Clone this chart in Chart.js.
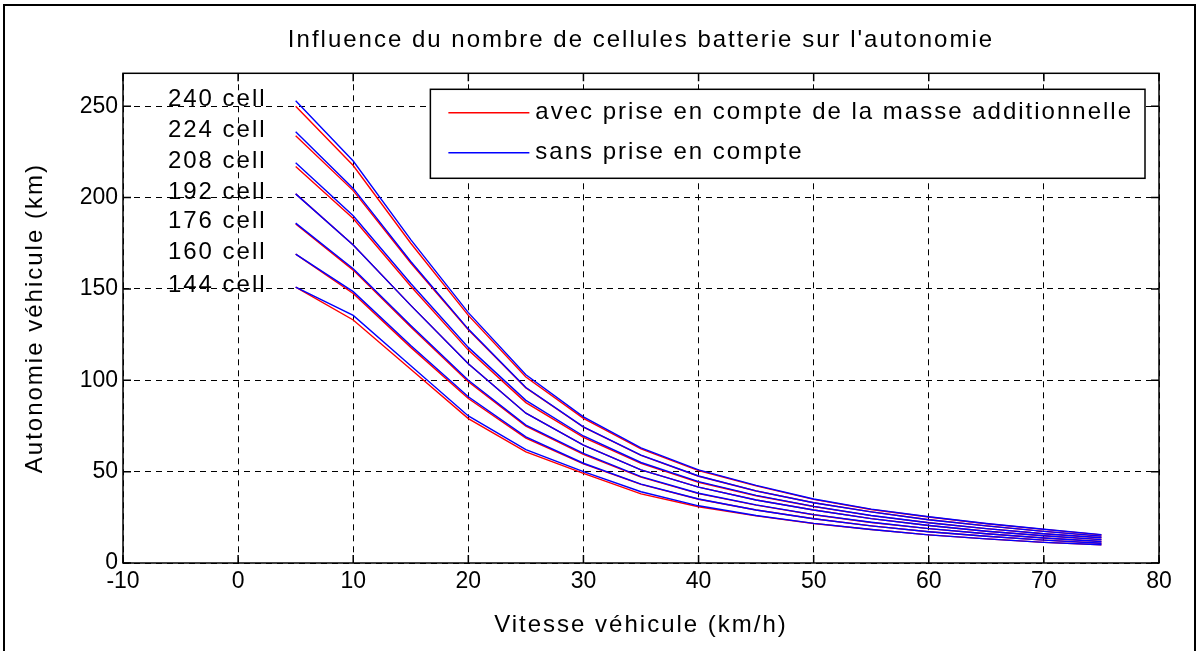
<!DOCTYPE html>
<html lang="fr">
<head>
<meta charset="utf-8">
<title>Influence du nombre de cellules batterie sur l'autonomie</title>
<script src="https://cdn.jsdelivr.net/npm/chart.js@4.4.1/dist/chart.umd.min.js"></script>
<style>
  html, body { margin: 0; padding: 0; background: #fff; }
</style>
</head>
<body>
<canvas id="autonomyChart" width="1200" height="651"></canvas>
<script>
// vitesse (km/h)
const speeds = [5, 10, 15, 20, 25, 30, 35, 40, 45, 50, 55, 60, 65, 70, 75];
const cellCounts = [240, 224, 208, 192, 176, 160, 144];

// autonomie (km) sans prise en compte de la masse des cellules
const sans240 = [253, 220, 177, 137, 103, 80, 63, 51, 42.5, 35, 29.5, 25.3, 21.6, 18.5, 15.5];
const sans224 = [236, 205, 165, 128, 96, 74.5, 59, 47.6, 39.5, 33, 28, 23.7, 20.3, 17.3, 14.7];
const sans208 = [219, 190, 153, 118, 89, 69.5, 55, 44.5, 37, 31, 26, 22, 18.8, 16, 13.8];
const sans192 = [202, 174, 141, 109, 82, 64.5, 51, 41.5, 34.5, 29, 24.3, 20.5, 17.4, 14.9, 12.8];
const sans176 = [186, 161, 130, 100, 75.5, 60, 47.3, 38.2, 31.8, 26.5, 22.3, 18.8, 16, 13.7, 11.8];
const sans160 = [169, 148.5, 119, 91, 69, 54.6, 43.2, 35, 29, 24.2, 20.3, 17.1, 14.6, 12.5, 10.8];
const sans144 = [151, 135.5, 108, 80.5, 62, 50, 39, 31.3, 26, 21.7, 18.3, 15.4, 13.2, 11.3, 10];

// autonomie (km) avec la masse additionnelle
const avec240 = [250, 217.5, 175, 135.5, 101.8, 79.2, 62.4, 50.6, 42.2, 34.8, 29.3, 25.2, 21.5, 18.4, 15.4];
const avec224 = [233.8, 203.8, 164.2, 127.7, 95.8, 74.3, 58.9, 47.5, 39.4, 33, 28, 23.7, 20.3, 17.3, 14.7];
const avec208 = [217, 188.5, 151.5, 116.5, 87.8, 68.7, 54.5, 44.2, 36.8, 30.9, 25.9, 22, 18.8, 16, 13.8];
const avec192 = [202, 174, 141, 109, 82, 64.5, 51, 41.5, 34.5, 29, 24.3, 20.5, 17.4, 14.9, 12.8];
const avec176 = [185.5, 160.3, 129.2, 99.2, 74.9, 59.5, 47, 38, 31.7, 26.4, 22.2, 18.8, 16, 13.7, 11.8];
const avec160 = [169, 147.5, 118, 90, 68.4, 54.2, 43, 34.9, 29, 24.2, 20.3, 17.1, 14.6, 12.5, 10.8];
const avec144 = [151, 133, 106, 79, 60.8, 49, 37.8, 30.8, 25.8, 21.6, 18.3, 15.4, 13.2, 11.3, 10];

const sansSeries = [sans240, sans224, sans208, sans192, sans176, sans160, sans144];
const avecSeries = [avec240, avec224, avec208, avec192, avec176, avec160, avec144];

const xTicks = { min: -10, max: 80, step: 10 };
const yTicks = { min: 0, max: 268, step: 50 };

const legendLabels = ['avec prise en compte de la masse additionnelle', 'sans prise en compte'];
const RED = '#ff0000';
const BLUE = '#0000ff';
const FONT = "'Liberation Sans', Arial, Helvetica, sans-serif";

function toPoints(values) {
    return speeds.map((v, i) => ({ x: v, y: values[i] }));
}

const datasets = [];
// red curves go underneath the blue ones (higher order is drawn first)
avecSeries.forEach((vals, i) => {
    datasets.push({
        label: `avec ${cellCounts[i]} cell`,
        data: toPoints(vals),
        borderColor: RED,
        borderWidth: 1.4,
        pointRadius: 0,
        tension: 0,
        order: 2
    });
});
sansSeries.forEach((vals, i) => {
    datasets.push({
        label: `sans ${cellCounts[i]} cell`,
        data: toPoints(vals),
        borderColor: BLUE,
        borderWidth: 1.4,
        pointRadius: 0,
        tension: 0,
        order: 1
    });
});

// box, inner ticks, legend, cell labels and figure border
const matlabFrame = {
    id: 'matlabFrame',
    afterUpdate(chart) {
        // tick numbers are drawn without the extra letter spacing
        Object.values(chart.scales).forEach(s => {
            if (s._plainLabels) return;
            const draw = s.drawLabels.bind(s);
            s.drawLabels = (area) => {
                const c = s.ctx;
                const prev = c.letterSpacing;
                c.letterSpacing = '0px';
                draw(area);
                c.letterSpacing = prev;
            };
            s._plainLabels = true;
        });
    },
    beforeDraw(chart) {
        chart.ctx.letterSpacing = '2px';
    },
    afterDatasetsDraw(chart) {
        const { ctx, chartArea: a, scales: { x, y } } = chart;
        ctx.save();
        ctx.letterSpacing = '2px';

        // cell count labels next to the start of each curve
        ctx.fillStyle = '#000';
        ctx.font = `24px ${FONT}`;
        ctx.textAlign = 'left';
        ctx.textBaseline = 'middle';
        cellCounts.forEach((n, i) => {
            ctx.fillText(`${n} cell`, x.getPixelForValue(-6.1), y.getPixelForValue(sansSeries[i][0] + 1));
        });

        // axes box
        ctx.strokeStyle = '#000';
        ctx.lineWidth = 1.5;
        ctx.strokeRect(a.left, a.top, a.right - a.left, a.bottom - a.top);
        ctx.beginPath();
        x.ticks.forEach(t => {
            const px = x.getPixelForValue(t.value);
            ctx.moveTo(px, a.bottom); ctx.lineTo(px, a.bottom - 8);
            ctx.moveTo(px, a.top); ctx.lineTo(px, a.top + 8);
        });
        y.ticks.forEach(t => {
            const py = y.getPixelForValue(t.value);
            ctx.moveTo(a.left, py); ctx.lineTo(a.left + 8, py);
            ctx.moveTo(a.right, py); ctx.lineTo(a.right - 8, py);
        });
        ctx.stroke();

        // legend
        const textW = Math.max(...legendLabels.map(s => ctx.measureText(s).width));
        const boxW = 18 + 81 + 8 + textW + 10;
        const boxH = 89;
        const bx = a.right - 14 - boxW;
        const by = a.top + 16;
        ctx.fillStyle = '#fff';
        ctx.fillRect(bx, by, boxW, boxH);
        ctx.lineWidth = 1.5;
        ctx.strokeRect(bx, by, boxW, boxH);
        [RED, BLUE].forEach((c, i) => {
            const ly = by + 23.5 + i * 40;
            ctx.strokeStyle = c;
            ctx.lineWidth = 1.5;
            ctx.beginPath();
            ctx.moveTo(bx + 18, ly);
            ctx.lineTo(bx + 99, ly);
            ctx.stroke();
            ctx.fillStyle = '#000';
            ctx.fillText(legendLabels[i], bx + 105, ly);
        });
        ctx.restore();
    },
    afterDraw(chart) {
        const { ctx } = chart;
        ctx.save();
        ctx.strokeStyle = '#000';
        ctx.lineWidth = 2;
        ctx.strokeRect(4, 5, 1191, 700);
        ctx.restore();
    }
};

const chart = new Chart(document.getElementById('autonomyChart'), {
    type: 'line',
    data: { datasets },
    plugins: [matlabFrame],
    options: {
        responsive: false,
        animation: false,
        devicePixelRatio: 1,
        layout: { padding: { left: 0, right: 41, top: 0, bottom: 0 } },
        plugins: {
            legend: { display: false },
            tooltip: { enabled: false },
            title: {
                display: true,
                text: "Influence du nombre de cellules batterie sur l'autonomie",
                color: '#000',
                font: { family: FONT, size: 24, weight: 'normal' },
                padding: { top: 25.6, bottom: 18.9 },
                fullSize: false
            }
        },
        scales: {
            x: {
                type: 'linear',
                min: xTicks.min,
                max: xTicks.max,
                ticks: { stepSize: xTicks.step, padding: 5, color: '#000', font: { family: FONT, size: 23 } },
                grid: { color: '#000', lineWidth: 1, drawTicks: false },
                border: { display: false, dash: [6, 5] },
                title: {
                    display: true,
                    text: 'Vitesse véhicule (km/h)',
                    color: '#000',
                    font: { family: FONT, size: 24 },
                    padding: { top: 0, bottom: 11.6 }
                },
                afterFit(scale) { scale.height = 88; }
            },
            y: {
                type: 'linear',
                min: yTicks.min,
                max: yTicks.max,
                ticks: { stepSize: yTicks.step, includeBounds: false, padding: 5, color: '#000', font: { family: FONT, size: 23 } },
                grid: { color: '#000', lineWidth: 1, drawTicks: false },
                border: { display: false, dash: [6, 5] },
                title: {
                    display: true,
                    text: 'Autonomie véhicule (km)',
                    color: '#000',
                    font: { family: FONT, size: 24 },
                    padding: { top: 20.6, bottom: 0 }
                },
                afterFit(scale) { scale.width = 123; }
            }
        }
    }
});
</script>
</body>
</html>
